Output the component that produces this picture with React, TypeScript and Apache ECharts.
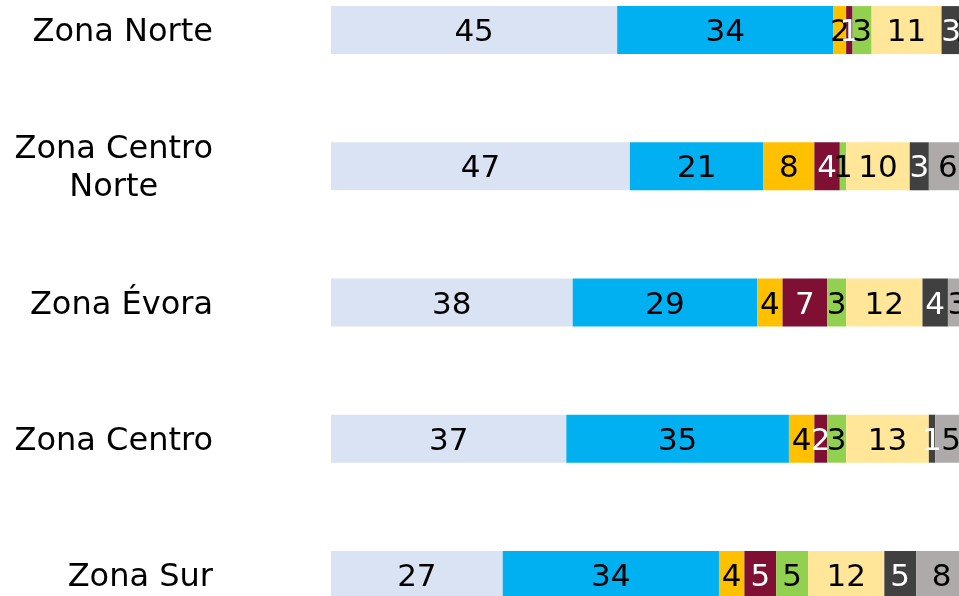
import React, { useEffect, useRef } from "react";
import * as echarts from "echarts";

const categories = ["Zona Norte", "Zona Centro\nNorte", "Zona Évora", "Zona Centro", "Zona Sur"];

const seg1 = [45, 47, 38, 37, 27];
const seg2 = [34, 21, 29, 35, 34];
const seg3 = [2, 8, 4, 4, 4];
const seg4 = [1, 4, 7, 2, 5];
const seg5 = [3, 1, 3, 3, 5];
const seg6 = [11, 10, 12, 13, 12];
const seg7 = [3, 3, 4, 1, 5];
const seg8 = [1, 6, 3, 5, 8];

const segments = [seg1, seg2, seg3, seg4, seg5, seg6, seg7, seg8];
const segmentNames = ["A", "B", "C", "D", "E", "F", "G", "H"];
const colors = ["#DAE3F3", "#00B0F0", "#FFC000", "#7F0F33", "#92D050", "#FFE699", "#404040", "#AEAAAA"];
const labelColors = ["#000", "#000", "#000", "#fff", "#000", "#000", "#fff", "#000"];

const FONT = "DejaVu Sans";

export default function App() {
  const ref = useRef<HTMLDivElement>(null);
  useEffect(() => {
    document.documentElement.style.overflow = "hidden";
    const chart = echarts.init(ref.current!, null, { renderer: "svg" });
    chart.setOption({
      animation: false,
      grid: {
        left: 331,
        right: -8,
        top: -38,
        bottom: -47,
        containLabel: false,
        outerBoundsMode: "none",
      },
      xAxis: { type: "value", min: 0, max: 100, show: false },
      yAxis: {
        type: "category",
        data: categories,
        inverse: true,
        axisLine: { show: false },
        axisTick: { show: false },
        splitLine: { show: false },
        axisLabel: {
          fontSize: 32,
          fontFamily: FONT,
          color: "#000",
          margin: 118,
          lineHeight: 38,
          align: "right",
          formatter: (v: string) => `{c|${v}}`,
          rich: {
            c: { align: "center", fontSize: 32, fontFamily: FONT, color: "#000", lineHeight: 38 },
          },
        },
      },
      series: segments.map((d, i) => ({
        type: "bar",
        name: segmentNames[i],
        stack: "total",
        data: d,
        barWidth: 48,
        itemStyle: { color: colors[i] },
        label: {
          show: true,
          position: "inside",
          fontSize: 31,
          fontFamily: FONT,
          color: labelColors[i],
        },
      })),
    });
    return () => chart.dispose();
  }, []);
  return <div ref={ref} style={{ position: "fixed", left: 0, top: 0, width: 959, height: 596 }} />;
}
